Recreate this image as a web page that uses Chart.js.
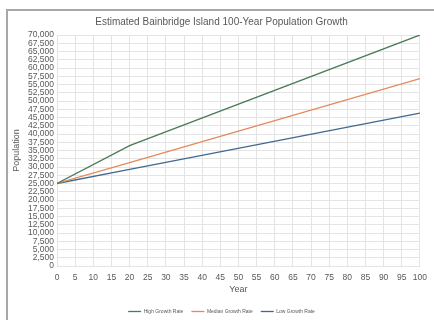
<!DOCTYPE html>
<html lang="en">
<head>
<meta charset="UTF-8">
<title>Estimated Bainbridge Island 100-Year Population Growth</title>
<script src="https://cdn.jsdelivr.net/npm/chart.js@4"></script>
<style>
  html, body { margin: 0; padding: 0; background: #fff; }
  body { width: 434px; height: 320px; position: relative; overflow: hidden; }
  #frame {
    position: absolute; left: 6px; top: 9px; right: -4px; bottom: -4px;
    border-top: 2px solid #a8a8a8; border-left: 2px solid #a8a8a8;
  }
  #wrap { position: absolute; left: 8px; top: 11px; width: 426px; height: 309px; }
</style>
</head>
<body>
<div id="frame"></div>
<div id="wrap"><canvas id="chart" width="426" height="309"></canvas></div>
<script>
// data
const years = [0, 20, 100];
const highGrowth = [25000, 36500, 70000];
const medianGrowth = [25000, 31360, 56800];
const lowGrowth = [25000, 29260, 46300];

const seriesNames = ['High Growth Rate', 'Median Growth Rate', 'Low Growth Rate'];
const seriesColors = ['#4b7b56', '#e4895b', '#40698f'];

const FONT = '"Liberation Sans", Arial, sans-serif';
const TEXT = '#595959';

function points(values) {
    return years.map((y, i) => ({ x: y, y: values[i] }));
}

const datasets = [highGrowth, medianGrowth, lowGrowth].map((vals, i) => ({
    label: seriesNames[i],
    data: points(vals),
    borderColor: seriesColors[i],
    backgroundColor: seriesColors[i],
    borderWidth: 1.3,
    pointRadius: 0,
    tension: 0,
    fill: false
}));

new Chart(document.getElementById('chart').getContext('2d'), {
    type: 'line',
    data: { datasets },
    options: {
        responsive: false,
        animation: false,
        // left/right padding keeps title and legend centred like the original
        layout: { padding: { left: 12, right: 11, top: 0, bottom: -4 } },
        plugins: {
            title: {
                display: true,
                text: 'Estimated Bainbridge Island 100-Year Population Growth',
                color: TEXT,
                font: { family: FONT, size: 10, weight: 'normal' },
                padding: { top: 5, bottom: 7 }
            },
            legend: {
                position: 'bottom',
                labels: {
                    usePointStyle: true,
                    pointStyle: 'line',
                    pointStyleWidth: 13,
                    color: TEXT,
                    padding: 8,
                    font: { family: FONT, size: 5 }
                }
            },
            tooltip: { enabled: false }
        },
        scales: {
            x: {
                type: 'linear',
                min: 0,
                max: 100,
                ticks: {
                    stepSize: 5,
                    autoSkip: false,
                    maxRotation: 0,
                    minRotation: 0,
                    color: TEXT,
                    padding: 7,
                    font: { family: FONT, size: 8.5 }
                },
                grid: { color: '#e4e4e4', drawTicks: false },
                border: { color: '#e4e4e4' },
                title: {
                    display: true,
                    text: 'Year',
                    color: TEXT,
                    font: { family: FONT, size: 9 },
                    padding: { top: 1, bottom: 5.6 }
                },
                afterFit: (scale) => { scale.height = 35; }
            },
            y: {
                min: 0,
                max: 70000,
                ticks: {
                    stepSize: 2500,
                    autoSkip: false,
                    color: TEXT,
                    padding: 3,
                    font: { family: FONT, size: 8.5 },
                    callback: (v) => v.toLocaleString('en-US')
                },
                grid: { color: '#e4e4e4', drawTicks: false },
                border: { color: '#e4e4e4' },
                title: {
                    display: true,
                    text: 'Population',
                    color: TEXT,
                    font: { family: FONT, size: 9 },
                    padding: { top: -8.4, bottom: 0 }
                },
                afterFit: (scale) => { scale.width = 37; }
            }
        }
    }
});
</script>
</body>
</html>
